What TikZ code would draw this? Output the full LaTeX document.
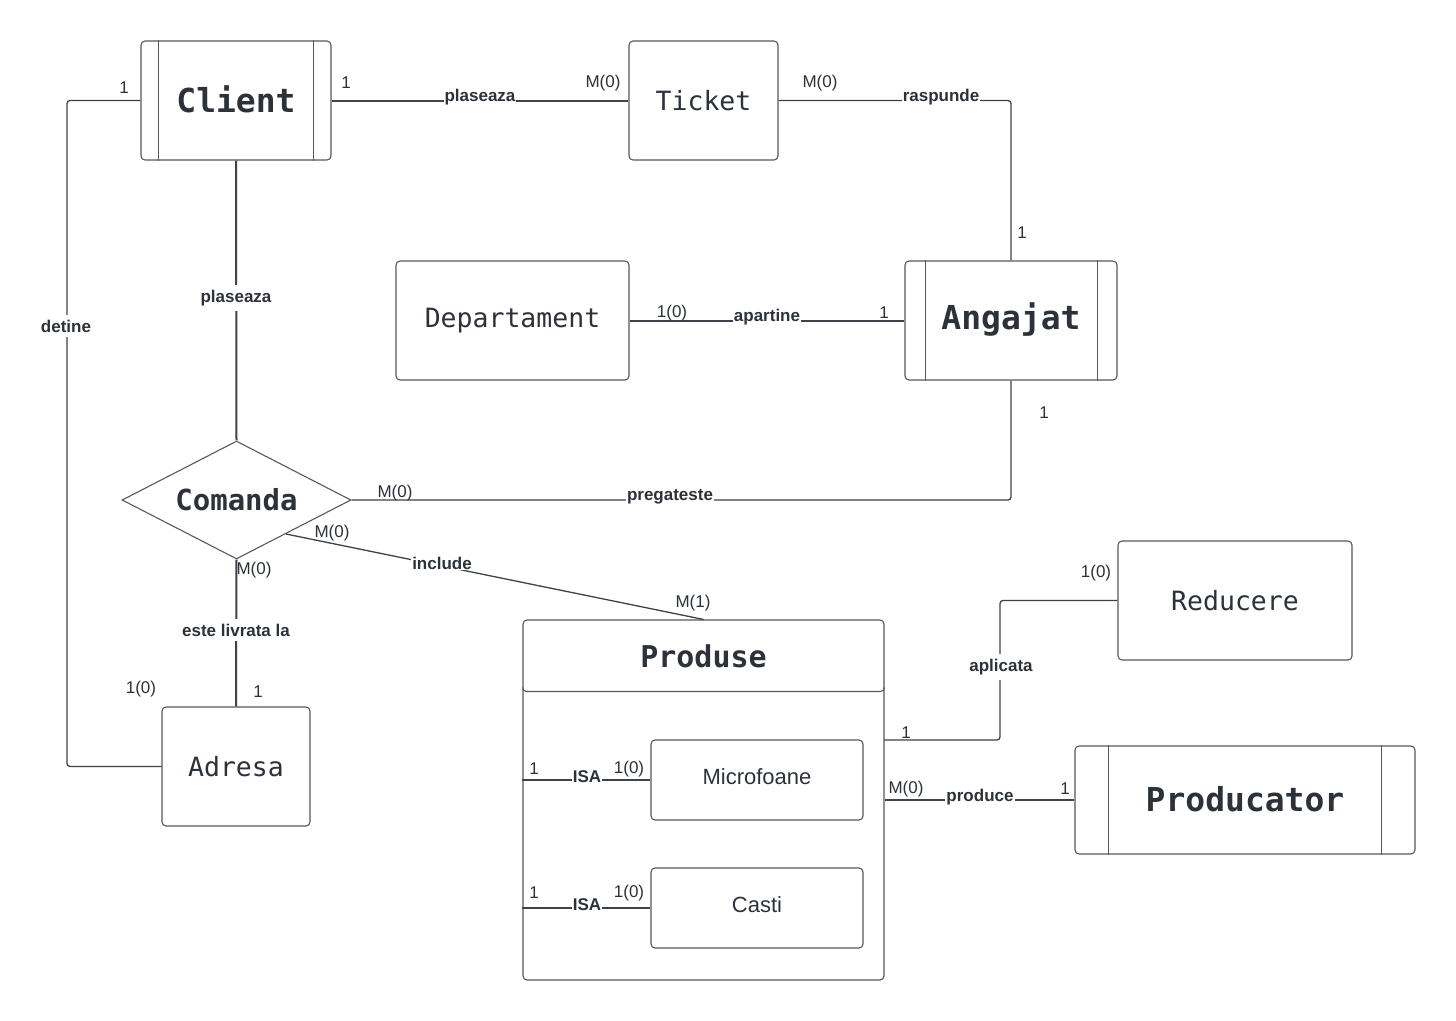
\documentclass[tikz,border=0pt]{standalone}
\usepackage{fontspec}
\setmainfont{Liberation Sans}
\newfontfamily\monof{DejaVu Sans Mono}
\usetikzlibrary{shapes.geometric}
\definecolor{ink}{RGB}{45,50,58}
\definecolor{edgec}{RGB}{62,66,74}
\definecolor{boxc}{RGB}{85,89,96}
\begin{document}
\begin{tikzpicture}[x=1pt,y=-1pt,
  ent/.style={draw=boxc, line width=1.1pt, rounded corners=4pt, inner sep=0pt, text=ink},
  bigb/.style={font=\fontsize{33}{36}\selectfont\monof\bfseries, text=ink},
  midb/.style={font=\fontsize{29}{33}\selectfont\monof\bfseries, text=ink},
  reg/.style={font=\fontsize{26.5}{30}\selectfont\monof, text=ink},
  sansent/.style={font=\fontsize{22}{25}\selectfont, text=ink},
  thickc/.style={draw=edgec, line width=2pt, rounded corners=3pt},
  thinc/.style={draw=edgec, line width=1.3pt, rounded corners=3pt},
  rel/.style={font=\fontsize{17}{19}\selectfont\bfseries, text=ink, fill=white, inner sep=1pt},
  relv/.style={rel, inner sep=5pt},
  card/.style={font=\fontsize{17}{19}\selectfont, text=ink, inner sep=0pt}
]
\useasboundingbox[fill=white] (0,0) rectangle (1456,1020);

% entities
\node[ent, minimum width=190pt, minimum height=119pt] (Client) at (236,100.5) {};
\node[bigb] (ClientT) at (236,99) {Client};
\draw[boxc, line width=1.1pt] ([xshift=18pt]Client.north west) -- ([xshift=18pt]Client.south west);
\draw[boxc, line width=1.1pt] ([xshift=-18pt]Client.north east) -- ([xshift=-18pt]Client.south east);

\node[ent, minimum width=149pt, minimum height=119pt] (Ticket) at (703.5,100.5) {};
\node[reg] (TicketT) at (703.5,101) {Ticket};

\node[ent, minimum width=233pt, minimum height=119pt] (Dep) at (512.5,320.5) {};
\node[reg] (DepT) at (512.5,321) {Departament};

\node[ent, minimum width=212pt, minimum height=119pt] (Angajat) at (1011,320.5) {};
\node[bigb] (AngajatT) at (1011,319) {Angajat};
\draw[boxc, line width=1.1pt] ([xshift=21pt]Angajat.north west) -- ([xshift=21pt]Angajat.south west);
\draw[boxc, line width=1.1pt] ([xshift=-20pt]Angajat.north east) -- ([xshift=-20pt]Angajat.south east);

\node[draw=boxc, line width=1.1pt, diamond, aspect=1.94, inner sep=0pt,
      minimum width=229pt, minimum height=118pt, midb] (Comanda) at (236.5,500) {Comanda};

\node[ent, minimum width=148pt, minimum height=119pt] (Adresa) at (236,766.5) {};
\node[reg] (AdresaT) at (236,767) {Adresa};

\node[ent, minimum width=361pt, minimum height=360pt] (Produse) at (703.5,800) {};
\draw[boxc, line width=1.1pt, rounded corners=4pt] ([yshift=-68pt]Produse.north west) -- ([yshift=-72pt]Produse.north west) -- ([yshift=-72pt]Produse.north east) -- ([yshift=-68pt]Produse.north east);
\node[font=\fontsize{30}{34}\selectfont\monof\bfseries, text=ink] (ProduseT) at (703.5,656) {Produse};

\node[ent, minimum width=212pt, minimum height=80pt] (Micro) at (757,780) {};
\node[sansent] (MicroT) at (757,777) {Microfoane};
\node[ent, minimum width=212pt, minimum height=80pt] (Casti) at (757,908) {};
\node[sansent] (CastiT) at (757,905) {Casti};

\node[ent, minimum width=234pt, minimum height=119pt] (Reducere) at (1235,600.5) {};
\node[reg] (ReducereT) at (1235,601) {Reducere};

\node[ent, minimum width=340pt, minimum height=108pt] (Producator) at (1245,800) {};
\node[bigb] (ProducatorT) at (1245,799) {Producator};
\draw[boxc, line width=1.1pt] ([xshift=34pt]Producator.north west) -- ([xshift=34pt]Producator.south west);
\draw[boxc, line width=1.1pt] ([xshift=-34pt]Producator.north east) -- ([xshift=-34pt]Producator.south east);

% helper coordinates
\coordinate (cinc) at (286,534);
\coordinate (pap) at (884,740);

% connectors
\draw[thinc] (Client.west) -| (67,433) |- (Adresa.west);
\draw[thickc] (Client.east) -- (Ticket.west);
\draw[thinc] (Ticket.east) -| (Angajat.north);
\draw[thickc] (Client.south) -- (Comanda.north);
\draw[thickc] (Dep.east) -- (Angajat.west);
\draw[thinc] (Angajat.south) |- (Comanda.east);
\draw[thinc] (cinc) -- (Produse.north);
\draw[thickc] (Comanda.south) -- (Adresa.north);
\draw[thinc] (pap) -| (1000,670) |- (Reducere.west);
\draw[thickc] (Produse.east) -- (Producator.west);
\draw[thickc] (Produse.west |- Micro.west) -- (Micro.west);
\draw[thickc] (Produse.west |- Casti.west) -- (Casti.west);

% relationship labels
\node[rel] (l1) at (480,97) {plaseaza};
\node[rel] (l2) at (941,97) {raspunde};
\node[relv] (l3) at (236,298) {plaseaza};
\node[relv] (l4) at (66,326) {detine};
\node[rel] (l5) at (767,317) {apartine};
\node[rel] (l6) at (670,497) {pregateste};
\node[rel] (l7) at (442,563) {include};
\node[relv] (l8) at (236,630) {este livrata la};
\node[relv] (l9) at (1001,667) {aplicata};
\node[rel] (l10) at (980,797) {produce};
\node[rel] (l11) at (587,777) {ISA};
\node[rel] (l12) at (587,905) {ISA};

% cardinalities
\node[card] (c1) at (124,88) {1};
\node[card] (c2) at (141,689) {1(0)};
\node[card] (c3) at (346,83) {1};
\node[card] (c4) at (603,83) {M(0)};
\node[card] (c5) at (820,83) {M(0)};
\node[card] (c6) at (1022,233) {1};
\node[card] (c7) at (672,313) {1(0)};
\node[card] (c8) at (884,313) {1};
\node[card] (c9) at (395,493) {M(0)};
\node[card] (c10) at (1044,413) {1};
\node[card] (c11) at (332,533) {M(0)};
\node[card] (c12) at (693,603) {M(1)};
\node[card] (c13) at (254,570) {M(0)};
\node[card] (c14) at (258,692) {1};
\node[card] (c15) at (906,733) {1};
\node[card] (c16) at (1096,573) {1(0)};
\node[card] (c17) at (906,789) {M(0)};
\node[card] (c18) at (1065,789) {1};
\node[card] (c19) at (534,769) {1};
\node[card] (c20) at (629,769) {1(0)};
\node[card] (c21) at (534,893) {1};
\node[card] (c22) at (629,893) {1(0)};
\end{tikzpicture}
\end{document}
